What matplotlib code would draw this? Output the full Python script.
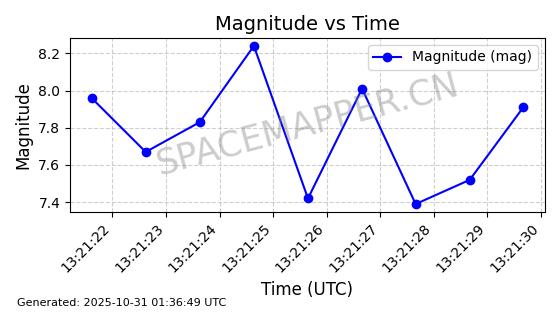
import datetime as dt
import matplotlib
matplotlib.use("Agg")
import matplotlib.pyplot as plt
import matplotlib.dates as mdates

# seconds after 13:21:00 UTC
seconds = [21.61, 22.62, 23.63, 24.64, 25.65, 26.66, 27.66, 28.67, 29.67]
magnitudes = [7.96, 7.67, 7.83, 8.24, 7.42, 8.01, 7.39, 7.52, 7.91]

base = dt.datetime(2025, 10, 31, 13, 21, 0)
times = [base + dt.timedelta(seconds=s) for s in seconds]

fig = plt.figure(figsize=(5.6, 3.14), dpi=100)
ax = fig.add_axes([0.125, 0.325, 0.848, 0.554])

ax.plot(times, magnitudes, color='blue', marker='o', markersize=6,
        linewidth=1.5, label='Magnitude (mag)')
ax.set_title('Magnitude vs Time', fontsize=14)
ax.set_xlabel('Time (UTC)', fontsize=12)
ax.set_ylabel('Magnitude', fontsize=12)
ax.grid(True, linestyle='--', alpha=0.6)
ax.legend(loc='upper right', fontsize=10)

ax.xaxis.set_major_locator(mdates.SecondLocator())
ax.xaxis.set_major_formatter(mdates.DateFormatter('%H:%M:%S'))
plt.setp(ax.get_xticklabels(), rotation=45, ha='right')

# watermark
ax.text(0.5, 0.5, 'SPACEMAPPER.CN', transform=ax.transAxes, fontsize=25,
        color='gray', alpha=0.4, rotation=15, ha='center', va='center')

fig.text(0.03, 0.025, 'Generated: 2025-10-31 01:36:49 UTC', fontsize=8)

fig.savefig('out.png', dpi=100)
